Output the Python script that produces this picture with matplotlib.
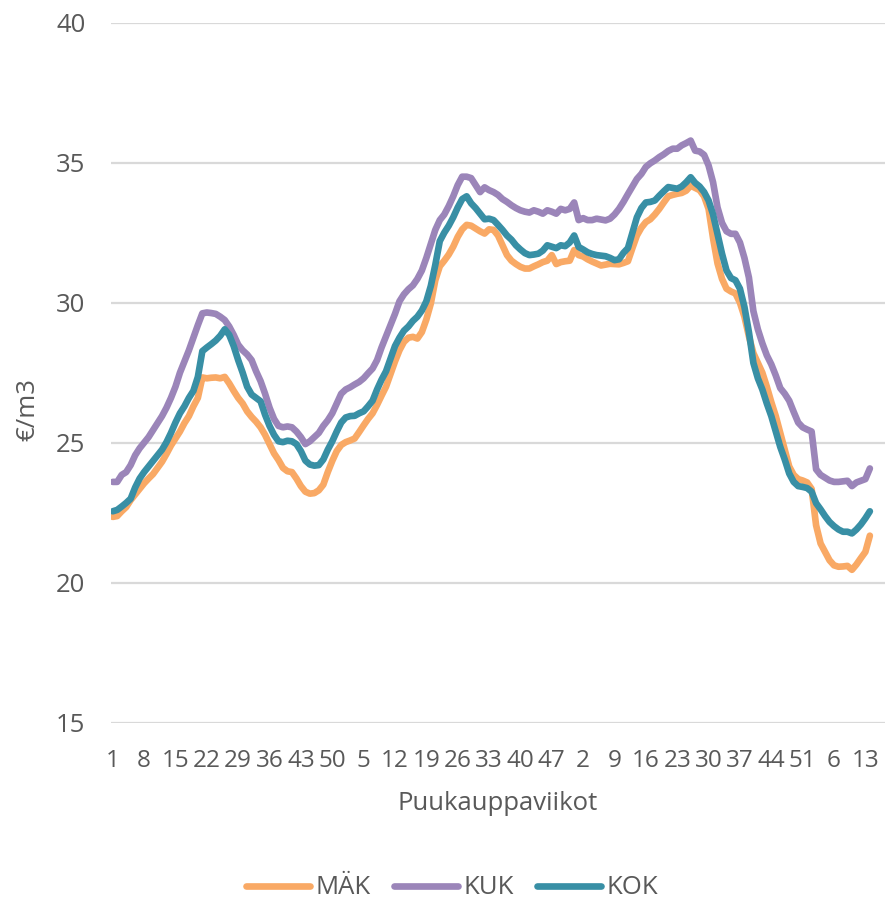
import matplotlib
matplotlib.use("Agg")
import matplotlib.pyplot as plt

# Puukauppaviikot: three full years of weeks and the start of the fourth
weeks = list(range(1, 53)) * 3 + list(range(1, 15))

# €/m3 per week
mak = [22.35, 22.38, 22.55, 22.70, 22.95, 23.15, 23.35, 23.55, 23.72, 23.88,
       24.10, 24.32, 24.60, 24.90, 25.15, 25.40, 25.70, 25.95, 26.30, 26.60,
       27.33, 27.30, 27.32, 27.33, 27.30, 27.35, 27.12, 26.85, 26.60, 26.40,
       26.12, 25.92, 25.75, 25.55, 25.28, 24.95, 24.62, 24.38, 24.10, 23.98,
       23.95, 23.72, 23.45, 23.25, 23.18, 23.20, 23.30, 23.50, 23.95, 24.35,
       24.70, 24.92, 25.02, 25.08, 25.15, 25.38, 25.62, 25.85, 26.05, 26.35,
       26.68, 27.00, 27.45, 27.90, 28.30, 28.60, 28.75, 28.78, 28.72, 28.95,
       29.40, 29.97, 30.80, 31.30, 31.50, 31.72, 32.00, 32.35, 32.62, 32.78,
       32.75, 32.65, 32.55, 32.47, 32.62, 32.60, 32.40, 32.05, 31.70, 31.50,
       31.38, 31.28, 31.22, 31.22, 31.30, 31.37, 31.45, 31.50, 31.70, 31.38,
       31.45, 31.48, 31.50, 31.88, 31.70, 31.65, 31.55, 31.47, 31.40, 31.33,
       31.36, 31.39, 31.38, 31.37, 31.42, 31.48, 31.95, 32.40, 32.68, 32.88,
       32.98, 33.15, 33.35, 33.58, 33.80, 33.85, 33.89, 33.92, 34.00, 34.18,
       34.10, 34.02, 33.80, 33.35, 32.30, 31.40, 30.85, 30.50, 30.40, 30.33,
       30.00, 29.50, 28.80, 28.20, 27.85, 27.50, 27.00, 26.45, 25.95, 25.35,
       24.75, 24.15, 23.85, 23.70, 23.65, 23.58, 23.35, 22.05, 21.40, 21.10,
       20.80, 20.62, 20.57, 20.58, 20.60, 20.46, 20.65, 20.88, 21.10, 21.68]

kuk = [23.60, 23.60, 23.85, 23.95, 24.20, 24.55, 24.80, 25.00, 25.20, 25.45,
       25.70, 25.95, 26.25, 26.60, 27.00, 27.50, 27.90, 28.30, 28.75, 29.20,
       29.62, 29.65, 29.63, 29.60, 29.50, 29.38, 29.15, 28.85, 28.50, 28.30,
       28.15, 27.95, 27.55, 27.20, 26.75, 26.25, 25.85, 25.60, 25.55, 25.58,
       25.55, 25.40, 25.20, 24.95, 25.05, 25.20, 25.35, 25.60, 25.80, 26.05,
       26.40, 26.75, 26.90, 26.98, 27.08, 27.17, 27.30, 27.48, 27.65, 27.95,
       28.40, 28.80, 29.20, 29.60, 30.05, 30.30, 30.48, 30.62, 30.85, 31.15,
       31.60, 32.10, 32.60, 32.95, 33.15, 33.45, 33.80, 34.20, 34.50, 34.50,
       34.45, 34.20, 33.95, 34.12, 34.02, 33.95, 33.85, 33.70, 33.60, 33.48,
       33.38, 33.30, 33.25, 33.22, 33.30, 33.25, 33.18, 33.30, 33.25, 33.18,
       33.35, 33.30, 33.35, 33.58, 32.95, 33.02, 32.95, 32.95, 33.00, 32.97,
       32.94, 33.00, 33.15, 33.35, 33.60, 33.88, 34.15, 34.42, 34.60, 34.85,
       34.98, 35.08, 35.20, 35.30, 35.42, 35.50, 35.50, 35.62, 35.70, 35.79,
       35.43, 35.40, 35.28, 34.90, 34.30, 33.40, 32.85, 32.55, 32.46, 32.46,
       32.15, 31.60, 30.90, 29.70, 29.05, 28.55, 28.12, 27.80, 27.40, 26.95,
       26.75, 26.50, 26.10, 25.72, 25.55, 25.47, 25.40, 24.05, 23.85, 23.75,
       23.65, 23.60, 23.60, 23.62, 23.64, 23.45, 23.58, 23.64, 23.70, 24.08]

kok = [22.55, 22.60, 22.72, 22.85, 23.00, 23.40, 23.72, 23.95, 24.15, 24.35,
       24.55, 24.75, 25.02, 25.35, 25.72, 26.05, 26.30, 26.60, 26.85, 27.35,
       28.27, 28.40, 28.52, 28.65, 28.82, 29.05, 28.85, 28.45, 27.95, 27.50,
       27.00, 26.72, 26.60, 26.48, 26.00, 25.60, 25.28, 25.05, 25.02, 25.07,
       25.05, 24.95, 24.70, 24.36, 24.22, 24.18, 24.20, 24.40, 24.75, 25.05,
       25.40, 25.72, 25.90, 25.95, 25.96, 26.05, 26.12, 26.30, 26.50, 26.90,
       27.25, 27.55, 28.00, 28.45, 28.75, 29.00, 29.15, 29.35, 29.50, 29.72,
       30.05, 30.60, 31.35, 32.20, 32.50, 32.75, 33.05, 33.40, 33.70, 33.80,
       33.55, 33.38, 33.18, 32.98, 33.00, 32.95, 32.78, 32.60, 32.40, 32.25,
       32.05, 31.90, 31.77, 31.70, 31.72, 31.75, 31.86, 32.05, 32.00, 31.95,
       32.05, 32.02, 32.15, 32.40, 31.99, 31.90, 31.80, 31.74, 31.70, 31.68,
       31.66, 31.60, 31.52, 31.55, 31.78, 31.95, 32.50, 33.05, 33.38, 33.58,
       33.60, 33.65, 33.82, 33.98, 34.13, 34.10, 34.07, 34.15, 34.30, 34.48,
       34.28, 34.15, 33.95, 33.65, 33.15, 32.45, 31.75, 31.15, 30.88, 30.80,
       30.50, 29.85, 28.95, 27.85, 27.30, 26.90, 26.40, 25.95, 25.40, 24.85,
       24.40, 23.90, 23.60, 23.45, 23.42, 23.38, 23.25, 22.84, 22.62, 22.38,
       22.17, 22.02, 21.90, 21.82, 21.82, 21.76, 21.90, 22.08, 22.30, 22.55]

series_names = ["MÄK", "KUK", "KOK"]
series_colors = ["#F9A965", "#9B85B9", "#388FA5"]
y_ticks = [15, 20, 25, 30, 35, 40]

plt.rcParams["font.family"] = ["Open Sans", "DejaVu Sans"]
text_color = "#595959"
fs = 18.5

W, H = 885, 899
fig = plt.figure(figsize=(W / 100, H / 100), dpi=100)
left, right, top, bottom = 110.5, 885, 22.7, 722.7
ax = fig.add_axes([left / W, 1 - bottom / H, (right - left) / W, (bottom - top) / H])

x = list(range(len(weeks)))
for vals, name, col in zip([mak, kuk, kok], series_names, series_colors):
    ax.plot(x, vals, color=col, lw=4.8, label=name,
            solid_capstyle="round", solid_joinstyle="round")

# category axis, one category is about 4.48 px wide
ax.set_xlim(-0.5, -0.5 + (right - left) / 4.48)
ax.set_ylim(15, 40)
ax.set_yticks(y_ticks)
tick_pos = x[::7]
ax.set_xticks(tick_pos)
ax.set_xticklabels([str(weeks[i]) for i in tick_pos])

ax.grid(axis="y", color="#D9D9D9", lw=1.6)
ax.set_axisbelow(True)
for s in ax.spines.values():
    s.set_visible(False)
ax.tick_params(axis="y", length=0, labelsize=fs, colors=text_color, pad=18)
ax.tick_params(axis="x", length=0, labelsize=17.5, colors=text_color, pad=19)

ax.set_xlabel("Puukauppaviikot", fontsize=fs, color=text_color, labelpad=13)
fig.text(28 / W, 1 - 410 / H, "€/m3", rotation=90, fontsize=fs,
         color=text_color, ha="center", va="center")

fig.legend(loc="center", bbox_to_anchor=(452 / W, 1 - 888 / H), ncol=3,
           frameon=False, fontsize=fs, handlelength=2.5, handletextpad=0.2,
           columnspacing=0.9, labelcolor=text_color)

fig.savefig("out.png", dpi=100)
